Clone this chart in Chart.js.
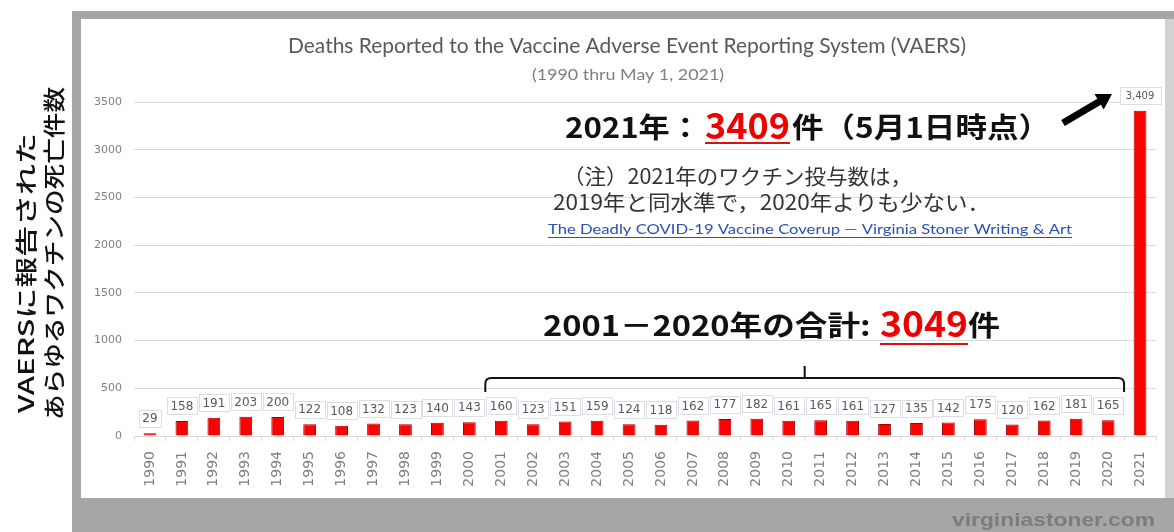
<!DOCTYPE html>
<html>
<head>
<meta charset="utf-8">
<script src="https://cdn.jsdelivr.net/npm/chart.js@4/dist/chart.umd.min.js"></script>
<style>
html,body{margin:0;padding:0;background:#fff;}
#wrap{width:1174px;height:532px;position:relative;}
</style>
</head>
<body>
<div id="wrap"><canvas id="c" width="1174" height="532"></canvas></div>
<script>
// ---- data ----
const years = ['1990','1991','1992','1993','1994','1995','1996','1997','1998','1999','2000',
  '2001','2002','2003','2004','2005','2006','2007','2008','2009','2010',
  '2011','2012','2013','2014','2015','2016','2017','2018','2019','2020','2021'];
const deaths = [29,158,191,203,200,122,108,132,123,140,143,
  160,123,151,159,124,118,162,177,182,161,
  165,161,127,135,142,175,120,162,181,165,3409];
const yTicks = [0,500,1000,1500,2000,2500,3000,3500];
const titleText = 'Deaths Reported to the Vaccine Adverse Event Reporting System (VAERS)';
const subtitleText = '(1990 thru May 1, 2021)';
const yTitleLines = ['VAERSに報告された','あらゆるワクチンの死亡件数'];
const note2021 = ['2021年：','3409','件（5月1日時点）'];
const noteLines = ['（注）2021年のワクチン投与数は，','2019年と同水準で，2020年よりも少ない．'];
const linkText = 'The Deadly COVID-19 Vaccine Coverup — Virginia Stoner Writing & Art';
const noteSum = ['2001－2020年の合計: ','3049','件'];
const braceFrom = '2001', braceTo = '2020';
const watermark = 'virginiastoner.com';

const JP = '"Noto Sans CJK JP", sans-serif';

function txt(ctx, s, x, y, w, font, color, baseline) {
  ctx.save();
  ctx.font = font; ctx.fillStyle = color;
  ctx.textAlign = 'left'; ctx.textBaseline = baseline || 'middle';
  const m = ctx.measureText(s).width;
  const sx = w ? w / m : 1;
  ctx.translate(x, y); ctx.scale(sx, 1);
  ctx.fillText(s, 0, 0);
  ctx.restore();
}

const framePlugin = {
  id: 'frame',
  beforeDraw(chart) {
    const ctx = chart.ctx;
    ctx.save();
    ctx.fillStyle = '#ffffff'; ctx.fillRect(0,0,1174,532);
    ctx.fillStyle = '#a6a6a6';
    ctx.fillRect(72, 11, 1102, 8);
    ctx.fillRect(72, 11, 9, 521);
    ctx.fillRect(72, 498, 1102, 34);
    ctx.fillStyle = '#d2d2d2';
    ctx.fillRect(1165, 19, 9, 479);
    ctx.restore();
  },
  afterDraw(chart) {
    const ctx = chart.ctx;
    const xs = chart.scales.x;
    // titles
    txt(ctx, titleText, 288, 46, 678, '21px Lato', '#595959');
    txt(ctx, subtitleText, 532, 75, 192, '15px Lato', '#7f7f7f');
    // y title (rotated)
    ctx.save();
    ctx.translate(26, 413); ctx.rotate(-Math.PI/2);
    txt(ctx, yTitleLines[0], 0, 0, 280, '500 22px ' + JP, '#111');
    ctx.restore();
    ctx.save();
    ctx.translate(54, 420); ctx.rotate(-Math.PI/2);
    txt(ctx, yTitleLines[1], 0, 0, 333, '500 22px ' + JP, '#111');
    ctx.restore();

    // data labels
    const meta = chart.getDatasetMeta(0);
    meta.data.forEach((bar, i) => {
      const v = deaths[i];
      const last = i === deaths.length - 1;
      const s = v.toLocaleString('en-US');
      ctx.save();
      ctx.font = (last ? '10px' : '12px') + ' "DejaVu Sans"';
      const tw = ctx.measureText(s).width;
      const bw = tw + (last ? 12 : 7), bh = 17;
      const cx = bar.x, cy = bar.y - 15;
      ctx.fillStyle = '#fff'; ctx.strokeStyle = '#d8dde6'; ctx.lineWidth = 1;
      ctx.fillRect(cx - bw/2, cy - bh/2, bw, bh);
      ctx.strokeRect(Math.round(cx - bw/2)+0.5, Math.round(cy - bh/2)+0.5, Math.round(bw), bh);
      ctx.fillStyle = '#595959'; ctx.textAlign = 'center'; ctx.textBaseline = 'middle';
      ctx.fillText(s, cx, cy + 1);
      ctx.restore();
    });

    // annotation 2021
    txt(ctx, note2021[0], 565, 138, 136, '600 28px ' + JP, '#111', 'alphabetic');
    txt(ctx, note2021[1], 705, 139, 85, '600 36px ' + JP, '#f00000', 'alphabetic');
    txt(ctx, note2021[2], 792, 138, 258, '600 28px ' + JP, '#111', 'alphabetic');
    ctx.save(); ctx.strokeStyle = '#e01010'; ctx.lineWidth = 2;
    ctx.beginPath(); ctx.moveTo(705, 143); ctx.lineTo(790, 143); ctx.stroke(); ctx.restore();

    // arrow
    ctx.save();
    ctx.fillStyle = '#000';
    const ax0 = 1063, ay0 = 123, ax1 = 1112, ay1 = 94;
    const ang = Math.atan2(ay1 - ay0, ax1 - ax0);
    ctx.translate(ax0, ay0); ctx.rotate(ang);
    const L = Math.hypot(ax1-ax0, ay1-ay0);
    ctx.beginPath();
    ctx.moveTo(0, -3.5); ctx.lineTo(L-15, -3.5); ctx.lineTo(L-15, -9); ctx.lineTo(L, 0);
    ctx.lineTo(L-15, 9); ctx.lineTo(L-15, 3.5); ctx.lineTo(0, 3.5); ctx.closePath(); ctx.fill();
    ctx.restore();

    // notes
    txt(ctx, noteLines[0], 563, 176, 349, '21px ' + JP, '#333');
    txt(ctx, noteLines[1], 553, 202, 437, '21px ' + JP, '#333');
    txt(ctx, linkText, 548, 229, 524, '14px Lato', '#2750b8');
    ctx.save(); ctx.strokeStyle = '#2750b8'; ctx.lineWidth = 1;
    ctx.beginPath(); ctx.moveTo(548, 237.5); ctx.lineTo(1072, 237.5); ctx.stroke(); ctx.restore();

    // sum annotation
    txt(ctx, noteSum[0], 543, 336, 335, '600 28px ' + JP, '#111', 'alphabetic');
    txt(ctx, noteSum[1], 880, 337, 88, '600 36px ' + JP, '#f00000', 'alphabetic');
    txt(ctx, noteSum[2], 968, 336, 32, '600 28px ' + JP, '#111', 'alphabetic');
    ctx.save(); ctx.strokeStyle = '#e01010'; ctx.lineWidth = 2;
    ctx.beginPath(); ctx.moveTo(880, 344); ctx.lineTo(968, 344); ctx.stroke(); ctx.restore();

    // brace over 2001-2020
    const i0 = years.indexOf(braceFrom), i1 = years.indexOf(braceTo);
    const half = (xs.getPixelForValue(1) - xs.getPixelForValue(0)) / 2;
    const bx0 = xs.getPixelForValue(i0) - half, bx1 = xs.getPixelForValue(i1) + half;
    const by = 378, r = 6, byEnd = 392;
    ctx.save(); ctx.strokeStyle = '#111'; ctx.lineWidth = 2;
    ctx.beginPath();
    ctx.moveTo(bx0, byEnd); ctx.lineTo(bx0, by + r); ctx.quadraticCurveTo(bx0, by, bx0 + r, by);
    ctx.lineTo(bx1 - r, by); ctx.quadraticCurveTo(bx1, by, bx1, by + r); ctx.lineTo(bx1, byEnd);
    const mx = (bx0 + bx1) / 2;
    ctx.moveTo(mx, by); ctx.lineTo(mx, 366);
    ctx.stroke(); ctx.restore();

    // watermark
    txt(ctx, watermark, 952, 521, 203, 'bold 19px "Liberation Sans"', '#7c7c7c');
  }
};

new Chart(document.getElementById('c'), {
  type: 'bar',
  data: {
    labels: years,
    datasets: [{
      data: deaths,
      backgroundColor: '#ff0000',
      borderColor: '#a00000',
      borderWidth: 1,
      barPercentage: 0.5,
      categoryPercentage: 0.8
    }]
  },
  options: {
    responsive: false,
    animation: false,
    devicePixelRatio: 1,
    layout: { padding: { left: 84, top: 102, right: 18, bottom: 34 } },
    plugins: { legend: { display: false }, tooltip: { enabled: false }, title: { display: false } },
    scales: {
      x: {
        offset: true,
        grid: { display: true, drawOnChartArea: false, tickLength: 5, color: '#d9d9d9', offset: true },
        border: { color: '#d9d9d9' },
        ticks: { autoSkip: false, minRotation: 90, maxRotation: 90, padding: 10,
                 color: '#808080', font: { family: 'DejaVu Sans', size: 14 } },
        afterFit(s) { s.height = 62; }
      },
      y: {
        min: 0, max: 3500,
        afterBuildTicks(s) { s.ticks = yTicks.map(v => ({ value: v })); },
        grid: { color: '#d9d9d9', drawTicks: false },
        border: { display: false },
        ticks: { padding: 12, color: '#808080', font: { family: 'DejaVu Sans', size: 11 },
                 callback: (v) => String(v) },
        afterFit(s) { s.width = 50; }
      }
    }
  },
  plugins: [framePlugin]
});
</script>
</body>
</html>
